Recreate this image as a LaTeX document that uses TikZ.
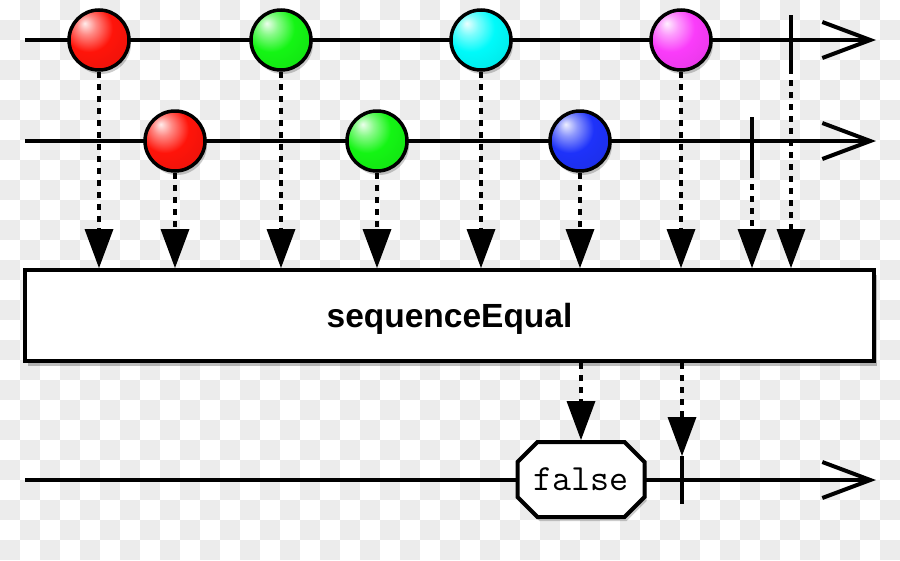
\documentclass[tikz,border=0pt]{standalone}
\usepackage{fontspec}
\setmainfont{Liberation Sans}
\usetikzlibrary{arrows.meta,shapes.misc,shadows}
\definecolor{chk}{RGB}{236,236,236}
\definecolor{mred}{RGB}{255,20,10}
\definecolor{mgreen}{RGB}{20,245,20}
\definecolor{mcyan}{RGB}{0,250,250}
\definecolor{mmag}{RGB}{250,60,250}
\definecolor{mblue}{RGB}{30,50,250}
\colorlet{mbc}{red}
\pgfdeclareradialshading[mbc]{marbleshade}{\pgfpoint{-12bp}{14bp}}{%
  color(0bp)=(mbc!8!white); color(8bp)=(mbc!50!white); color(20bp)=(mbc);
  color(38bp)=(mbc!92!black); color(52bp)=(mbc!70!black); color(70bp)=(mbc!55!black)}
\begin{document}
\begin{tikzpicture}[x=1pt,y=-1pt,
  tl/.style={line width=4pt,-{Straight Barb[length=48pt,width=36pt]}},
  marble/.style={circle,draw=black,line width=3.5pt,minimum size=60pt,inner sep=0pt,
    /utils/exec={\colorlet{mbc}{#1}},shading=marbleshade,
    drop shadow={shadow xshift=2pt,shadow yshift=-4pt,opacity=0.2,fill=black}},
  tickmark/.style={line width=3.5pt},
  dotarrow/.style={line width=3.5pt,dash pattern=on 6pt off 6pt,
    -{Triangle[length=39pt,width=29pt,line width=0pt]}},
  opbox/.style={draw=black,fill=white,line width=4pt,minimum width=849pt,minimum height=91pt,
    inner sep=0pt,text depth=0pt,font=\bfseries\fontsize{33.5}{36}\selectfont,
    drop shadow={shadow xshift=3pt,shadow yshift=-5pt,opacity=0.25,fill=black}},
  valbox/.style={chamfered rectangle,chamfered rectangle xsep=10pt,chamfered rectangle ysep=10pt,
    draw=black,fill=white,line width=4pt,minimum width=127pt,minimum height=75pt,inner sep=0pt,
    font=\ttfamily\fontsize{37}{40}\selectfont,
    drop shadow={shadow xshift=2pt,shadow yshift=-4pt,opacity=0.2,fill=black}}
]
\useasboundingbox (0,0) rectangle (900,560);
% checkerboard background
\fill[white] (0,0) rectangle (900,560);
\foreach \i in {0,...,44}{
  \foreach \j in {0,...,27}{
    \pgfmathtruncatemacro\myparity{mod(\i+\j,2)}
    \ifnum\myparity=1 \fill[chk] (\i*20,\j*20) rectangle (\i*20+20,\j*20+20); \fi
  }
}
% timelines
\coordinate (a0) at (25,40);  \coordinate (a1) at (876,40);
\coordinate (b0) at (25,141); \coordinate (b1) at (876,141);
\coordinate (c0) at (25,480); \coordinate (c1) at (876,480);
\draw[tl] (a0) -- (a1);
\draw[tl] (b0) -- (b1);
\draw[tl] (c0) -- (c1);
% completion ticks
\coordinate (k1t) at (791,15);  \coordinate (k1b) at (791,68);
\coordinate (k2t) at (752,117); \coordinate (k2b) at (752,172);
\coordinate (k3t) at (682,456); \coordinate (k3b) at (682,504);
\draw[tickmark] (k1t) -- (k1b);
\draw[tickmark] (k2t) -- (k2b);
% marbles
\node[marble=mred]   (r1) at (99,40)  {};
\node[marble=mgreen] (g1) at (281,40) {};
\node[marble=mcyan]  (c1m) at (481,40) {};
\node[marble=mmag]   (m1) at (681,40) {};
\node[marble=mred]   (r2) at (175,141) {};
\node[marble=mgreen] (g2) at (377,141) {};
\node[marble=mblue]  (b2) at (580,141) {};
% operator box
\node[opbox] (box) at (449.5,315.5) {sequenceEqual};
% dotted arrows into the box
\foreach \n in {r1,g1,c1m,m1,r2,g2,b2}{
  \draw[dotarrow] (\n.south) -- (\n.south |- box.north);
}
\draw[dotarrow] (k1b) -- (k1b |- box.north);
\draw[dotarrow] (k2b) -- (k2b |- box.north);
% result
\node[valbox] (f) at (581,479.5) {false};
\draw[tickmark] (k3t) -- (k3b);
\draw[dotarrow] (box.south -| f.north) -- (f.north);
\draw[dotarrow] (box.south -| k3t) -- (k3t);
\end{tikzpicture}
\end{document}
